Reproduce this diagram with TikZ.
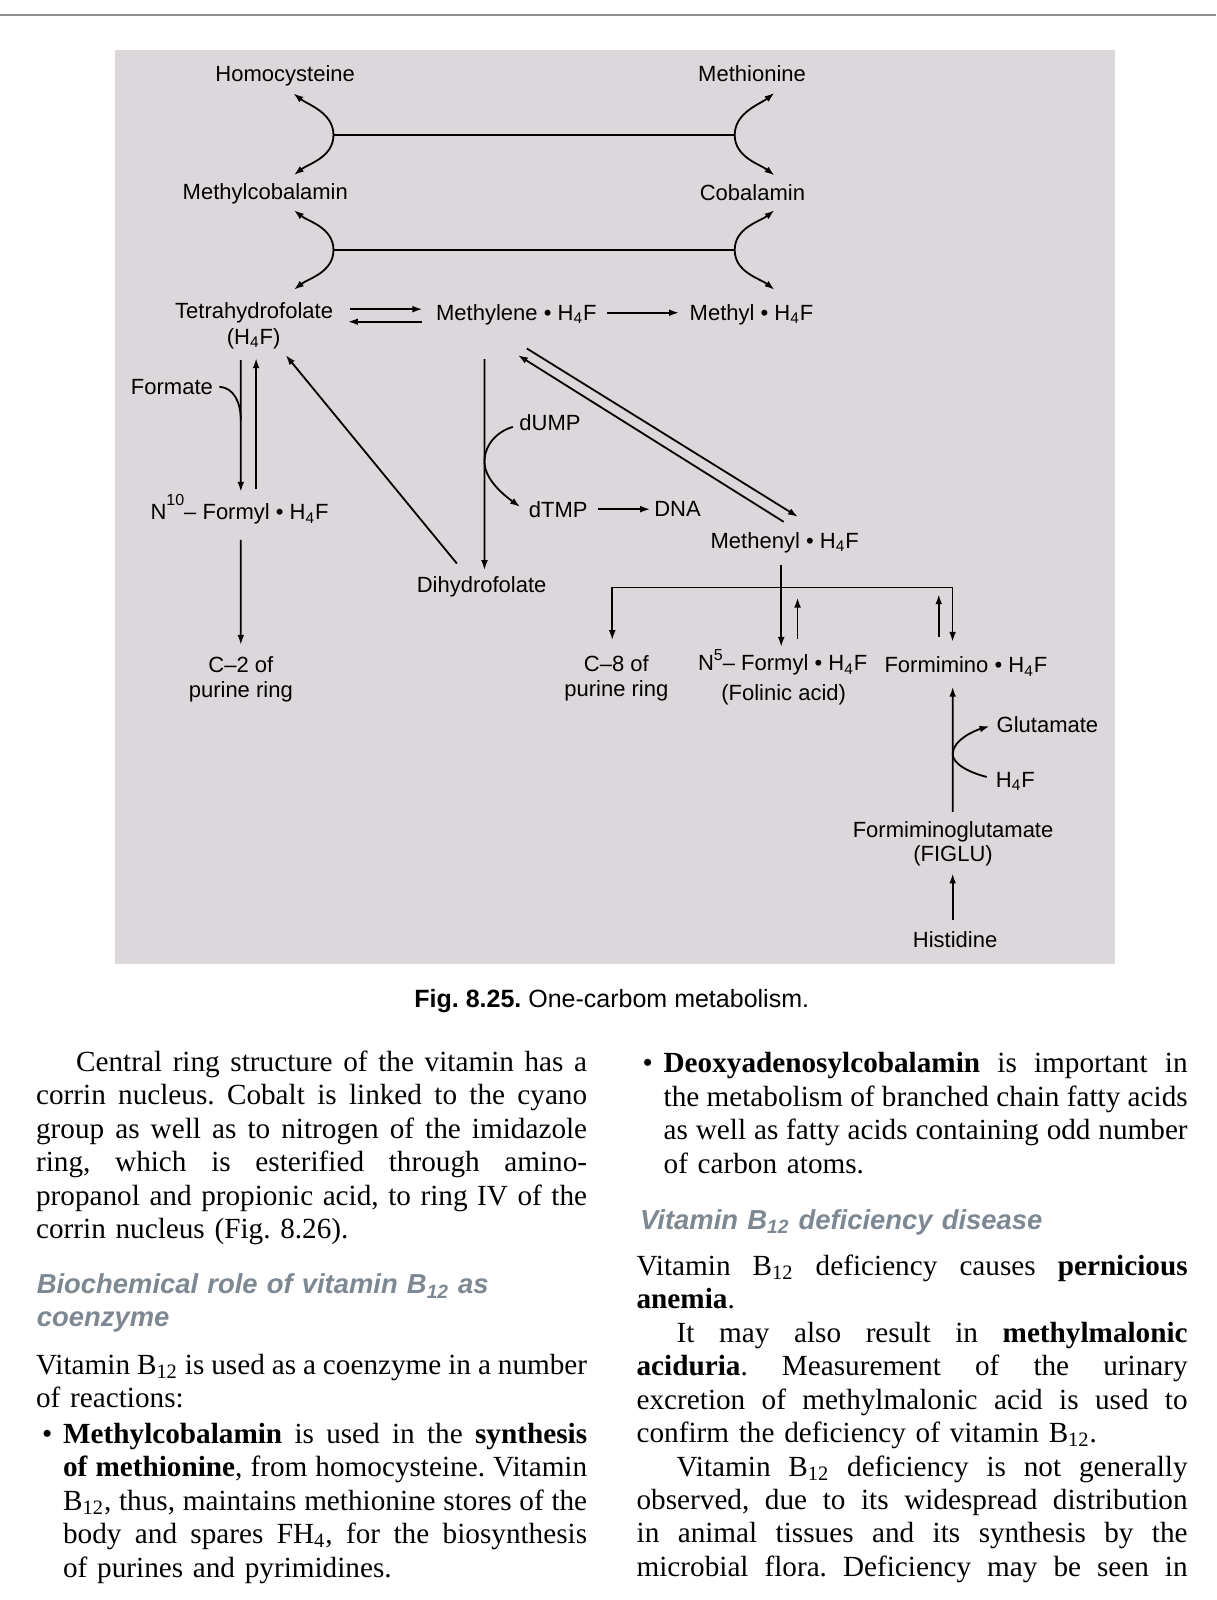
\documentclass[tikz,border=0pt]{standalone}
\usepackage{fontspec}
\setmainfont{Liberation Serif}
\setsansfont{Liberation Sans}
\usetikzlibrary{arrows.meta,calc}
\definecolor{bggray}{HTML}{DBD7DB}
\definecolor{rulegray}{HTML}{8E8E8E}
\definecolor{headgray}{HTML}{7D8893}
\newlength{\colw}\setlength{\colw}{275.4pt}
\newcommand{\Hf}{H\textsubscript{4}F}
\newcommand{\Nsup}[2]{N\raisebox{#2}{\fontsize{8}{8}\selectfont #1}}
\newcommand{\jl}[1]{\noindent\makebox[\colw][s]{\spaceskip=0.25em plus 1.5em minus 0.12em\relax#1}\par}
\newcommand{\bul}{\makebox[13.5pt][l]{\hspace{3pt}•}}
\frenchspacing
\tikzset{lbl/.style={font=\sffamily\fontsize{11}{13}\selectfont,inner sep=1pt,text height=9.5pt,text depth=2pt},lblm/.style={font=\sffamily\fontsize{11}{12.5}\selectfont,inner sep=1pt,align=center},flow/.style={-{Latex[length=5pt,width=3.4pt]},line width=0.9pt},bond/.style={line width=0.9pt},body/.style={font=\fontsize{14.6}{16.7}\selectfont,text width=\colw,inner sep=0pt,anchor=base west},head/.style={font=\sffamily\bfseries\itshape\fontsize{13.7}{16.3}\selectfont,text=headgray,text width=\colw,align=left,inner sep=0pt,anchor=base west}}

\begin{document}
\begin{tikzpicture}[x=0.51pt,y=-0.51pt]
\useasboundingbox (0,0) rectangle (1192,1568);
\draw[rulegray,line width=1.4pt] (0,14.7) -- (1192,14.7);
\fill[bggray] (112.7,49) rectangle (1093,944.5);
% labels
\node[lbl] (homo) at (279.5,73) {Homocysteine};
\node[lbl] (meth) at (737,73) {Methionine};
\node[lbl] (mcbl) at (260,188) {Methylcobalamin};
\node[lbl] (cbl) at (737.4,189) {Cobalamin};
\node[lbl] (thf) at (249,304.6) {Tetrahydrofolate};
\node[lbl] (thfb) at (248.5,330) {(\Hf)};
\node[lbl] (mlene) at (506,306.5) {Methylene • \Hf};
\node[lbl] (mthy) at (736.5,306.5) {Methyl • \Hf};
\node[lbl] (frm) at (168.5,379.5) {Formate};
\node[lbl] (nten) at (234.8,502) {\Nsup{10}{7pt}– Formyl • \Hf};
\node[lbl] (dump) at (539,415) {dUMP};
\node[lbl] (dtmp) at (547,500) {dTMP};
\node[lbl] (dna) at (664,499) {DNA};
\node[lbl] (mnyl) at (769,530) {Methenyl • \Hf};
\node[lbl] (dhf) at (472,573.5) {Dihydrofolate};
\node[lblm] (ctwo) at (236,666) {C–2 of\\purine ring};
\node[lblm] (ceight) at (604,664.5) {C–8 of\\purine ring};
\node[lbl] (nfive) at (767,650) {\Nsup{5}{5pt}– Formyl • \Hf};
\node[lbl] (folin) at (768,679.5) {(Folinic acid)};
\node[lbl] (fmino) at (946.6,652) {Formimino • \Hf};
\node[lbl] (glu) at (1026.5,710.7) {Glutamate};
\node[lbl] (hfg) at (995,764.6) {\Hf};
\node[lbl] (figlu) at (934,813.6) {Formiminoglutamate};
\node[lbl] (figlub) at (934,836.5) {(FIGLU)};
\node[lbl] (his) at (936,921.5) {Histidine};
% cobalamin cycles
\coordinate (hub1l) at (326.8,132.3);
\coordinate (hub1r) at (720,132.3);
\coordinate (hub2l) at (326.8,245);
\coordinate (hub2r) at (720,245);
\draw[bond] (hub1l) -- (hub1r);
\draw[bond] (hub2l) -- (hub2r);
\draw[flow] (hub1l) .. controls +(0,-22) and +(14,11) .. ($(homo)+(8,18.5)$);
\draw[flow] (hub1l) .. controls +(0,22) and +(14,-11) .. ($(mcbl)+(28,-16.4)$);
\draw[flow] (hub1r) .. controls +(0,-22) and +(-14,11) .. ($(meth)+(22,18)$);
\draw[flow] (hub1r) .. controls +(0,22) and +(-14,-11) .. ($(cbl)+(21.6,-17)$);
\draw[flow] (hub2l) .. controls +(0,-22) and +(14,11) .. ($(mcbl)+(28,18)$);
\draw[flow] (hub2l) .. controls +(0,22) and +(14,-11) .. ($(thf)+(39,-20.6)$);
\draw[flow] (hub2r) .. controls +(0,-22) and +(-14,11) .. ($(cbl)+(21.6,17)$);
\draw[flow] (hub2r) .. controls +(0,22) and +(-14,-11) .. ($(mthy)+(22.5,-22.5)$);
% folate pool
\draw[flow] ($(thf)+(94,-1.6)$) -- ($(mlene)+(-92,-3.5)$);
\draw[flow] ($(mlene)+(-92,8.8)$) -- ($(thf)+(92,10.7)$);
\draw[flow] ($(mlene)+(88.6,0)$) -- ($(mthy)+(-71,0)$);
\draw[flow] ($(thfb)+(-12.5,23)$) -- ($(nten)+(1.2,-20)$);
\draw[flow] ($(nten)+(16.2,-22.4)$) -- ($(thfb)+(2.5,21)$);
\draw[bond] ($(frm)+(46.5,-0.5)$) .. controls +(14,1) and +(0,-18) .. ($(nten)+(1.2,-90)$);
\draw[flow] ($(nten)+(1.2,27)$) -- ($(ctwo)+(0,-34)$);
\draw[flow] ($(dhf)+(-24.3,-21.3)$) -- ($(thfb)+(31.5,18)$);
\draw[flow] ($(mlene)+(-31.2,45.5)$) -- ($(dhf)+(2.8,-14.7)$);
\draw[flow] ($(dump)+(-36.4,3.3)$) .. controls +(-14,4) and +(0,-18) .. ($(mlene)+(-31.2,146.1)$)
  .. controls +(0,18) and +(-14,-10) .. ($(dtmp)+(-37.2,-3.3)$);
\draw[flow] ($(dtmp)+(39.5,-1)$) -- ($(dna)+(-26.8,0)$);
\draw[flow] ($(mlene)+(10.3,35)$) -- ($(mnyl)+(13,-23.5)$);
\draw[flow] ($(mnyl)+(-1,-18.6)$) -- ($(mlene)+(1.5,41.5)$);
% methenyl branch
\coordinate (split) at ($(mnyl)+(-3.4,45.8)$);
\draw[flow] ($(mnyl)+(-3.4,24)$) -- ($(nfive)+(-1.4,-16)$);
\draw[flow] (split) -| ($(ceight)+(-4,-37.1)$);
\draw[flow] (split) -| ($(fmino)+(-13.1,-23)$);
\draw[flow] ($(nfive)+(14.6,-24.2)$) -- ($(nfive)+(14.6,-64.4)$);
\draw[flow] ($(fmino)+(-26.6,-28)$) -- ($(fmino)+(-26.6,-69.7)$);
% histidine route
\draw[flow] ($(figlu)+(-0.4,-18)$) -- ($(fmino)+(-13,21)$);
\draw[flow] ($(hfg)+(-28,-3.2)$) .. controls +(-16,-4) and +(0,10) .. ($(figlu)+(-0.4,-74.6)$)
  .. controls +(0,-14) and +(-14,4) .. ($(glu)+(-56.7,1)$);
\draw[flow] ($(his)+(-2.4,-19.5)$) -- ($(figlub)+(-0.4,19.5)$);
% caption
\node[font=\sffamily\fontsize{12.5}{14}\selectfont,inner sep=0pt] (cap) at (599.5,981) {\textbf{Fig. 8.25.} One-carbom metabolism.};
% left column
\node[body] (colA) at (35,1050) {\jl{\hspace{20pt}Central ring structure of the vitamin has a}\jl{corrin nucleus. Cobalt is linked to the cyano}\jl{group as well as to nitrogen of the imidazole}\jl{ring, which is esterified through amino-}\jl{propanol and propionic acid, to ring IV of the}\noindent corrin nucleus (Fig. 8.26).\par};
\node[head] (hdA) at (35.7,1268) {Biochemical role of vitamin B\textsubscript{12} as\\coenzyme};
\node[body] (colB) at (35,1347) {\jl{Vitamin B\textsubscript{12} is used as a coenzyme in a number}\noindent of reactions:\par};
\node[body] (colC) at (35,1414.5) {\jl{\bul\textbf{Methylcobalamin} is used in the \textbf{synthesis}}\jl{\hspace{13.5pt}\textbf{of methionine}, from homocysteine. Vitamin}\jl{\hspace{13.5pt}B\textsubscript{12}, thus, maintains methionine stores of the}\jl{\hspace{13.5pt}body and spares FH\textsubscript{4}, for the biosynthesis}\noindent\hspace{13.5pt}of purines and pyrimidines.\par};
% right column
\node[body] (colD) at (623.5,1051.5) {\jl{\bul\textbf{Deoxyadenosylcobalamin} is important in}\jl{\hspace{13.5pt}the metabolism of branched chain fatty acids}\jl{\hspace{13.5pt}as well as fatty acids containing odd number}\noindent\hspace{13.5pt}of carbon atoms.\par};
\node[head] (hdB) at (627,1205) {Vitamin B\textsubscript{12} deficiency disease};
\node[body] (colE) at (623.5,1250) {\jl{Vitamin B\textsubscript{12} deficiency causes \textbf{pernicious}}\noindent\textbf{anemia}.\par\jl{\hspace{20pt}It may also result in \textbf{methylmalonic}}\jl{\textbf{aciduria}. Measurement of the urinary}\jl{excretion of methylmalonic acid is used to}\noindent confirm the deficiency of vitamin B\textsubscript{12}.\par\jl{\hspace{20pt}Vitamin B\textsubscript{12} deficiency is not generally}\jl{observed, due to its widespread distribution}\jl{in animal tissues and its synthesis by the}\jl{microbial flora. Deficiency may be seen in}};
\end{tikzpicture}
\end{document}
